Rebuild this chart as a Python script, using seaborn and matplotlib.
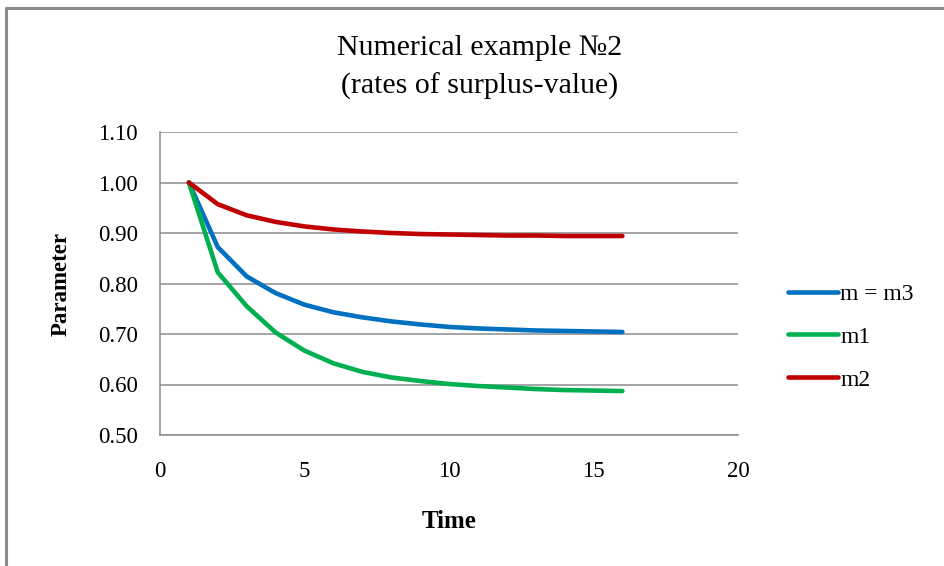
import numpy as np
import pandas as pd
import matplotlib
matplotlib.use('Agg')
import matplotlib.pyplot as plt
import seaborn as sns

# Datos
tiempo = list(range(1, 17))
m_m3 = [1.000, 0.872, 0.814, 0.781, 0.758, 0.743, 0.733, 0.725, 0.719, 0.714,
        0.711, 0.709, 0.707, 0.706, 0.705, 0.704]
m1 = [1.000, 0.822, 0.755, 0.703, 0.667, 0.642, 0.625, 0.614, 0.607, 0.601,
      0.597, 0.594, 0.591, 0.589, 0.588, 0.587]
m2 = [1.000, 0.957, 0.935, 0.922, 0.913, 0.907, 0.903, 0.900, 0.898, 0.897,
      0.896, 0.895, 0.895, 0.894, 0.894, 0.894]

series = ['m = m3', 'm1', 'm2']
colores = ['#0070C0', '#00B050', '#C00000']

df = pd.DataFrame({
    'Time': tiempo * 3,
    'Parameter': m_m3 + m1 + m2,
    'serie': [s for s in series for _ in tiempo],
})

sns.set_style('white')
plt.rcParams['font.family'] = ['Liberation Serif', 'DejaVu Serif']
plt.rcParams['text.color'] = 'black'
plt.rcParams['axes.labelcolor'] = 'black'

fig = plt.figure(figsize=(9.44, 5.66), dpi=100)
ax = fig.add_axes([160 / 944, 1 - 435 / 566, (738 - 160) / 944, (435 - 132) / 566])

sns.lineplot(data=df, x='Time', y='Parameter', hue='serie', palette=colores,
             linewidth=3.3, ax=ax, legend=False, solid_capstyle='round')

ax.set_xlim(0, 20)
ax.set_ylim(0.5, 1.1)
ax.set_xticks([0, 5, 10, 15, 20])
ax.set_yticks(np.arange(0.5, 1.101, 0.1))
ax.set_yticklabels([f'{v:.2f}' for v in np.arange(0.5, 1.101, 0.1)])
ax.tick_params(axis='both', length=0, labelsize=16.5, colors='black')
ax.tick_params(axis='x', pad=19)
ax.tick_params(axis='y', pad=16)
ax.yaxis.grid(True, color='#8c8c8c', linewidth=1.1)
ax.set_axisbelow(True)
for lado in ['top', 'right']:
    ax.spines[lado].set_visible(False)
for lado in ['left', 'bottom']:
    ax.spines[lado].set_color('#8c8c8c')
    ax.spines[lado].set_linewidth(1.1)

ax.set_xlabel('Time', fontsize=18, fontweight='bold', labelpad=20)
ax.set_ylabel('Parameter', fontsize=16.5, fontweight='bold', labelpad=19)

fig.text(480 / 944, 1 - 55 / 566, 'Numerical example №2',
         ha='center', va='baseline', fontsize=21.5)
fig.text(480 / 944, 1 - 94 / 566, '(rates of surplus-value)',
         ha='center', va='baseline', fontsize=21.5)

# Leyenda a la derecha
handles = [plt.Line2D([], [], color=c, linewidth=3.3, solid_capstyle='round') for c in colores]
fig.legend(handles, series, loc='center left', bbox_to_anchor=(788 / 944, 1 - 337 / 566),
           frameon=False, fontsize=17, handlelength=2.1, handletextpad=0.12,
           labelspacing=0.9, borderpad=0, borderaxespad=0)

# Marco del gráfico
fig.add_artist(plt.Line2D([6 / 944, 6 / 944], [0, 1 - 8 / 566], color='#8c8c8c', linewidth=2.2))
fig.add_artist(plt.Line2D([6 / 944, 1], [1 - 8 / 566, 1 - 8 / 566], color='#8c8c8c', linewidth=2.2))

fig.savefig('out.png', dpi=100)
